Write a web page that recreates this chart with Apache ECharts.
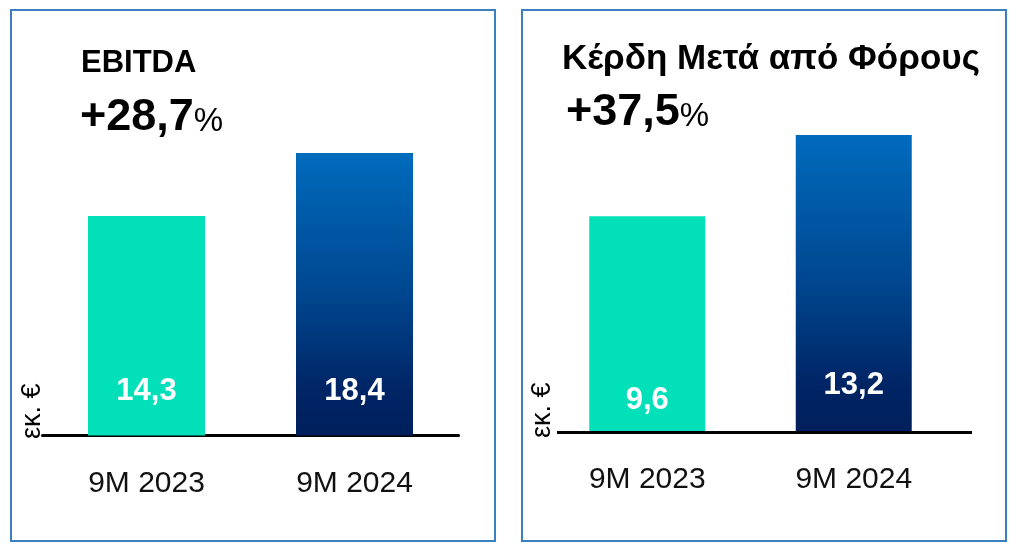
<!DOCTYPE html>
<html>
<head>
<meta charset="utf-8">
<script src="https://cdn.jsdelivr.net/npm/echarts@6/dist/echarts.min.js"></script>
<style>
html,body{margin:0;padding:0;background:#fff;}
#c{width:1018px;height:554px;}
</style>
</head>
<body>
<div id="c"></div>
<script>
var categories = ['9M 2023', '9M 2024'];
var ebitdaValues = [14.3, 18.4];
var profitValues = [9.6, 13.2];
var titles = ['EBITDA', 'Κέρδη Μετά από Φόρους'];
var growth = ['+28,7', '+37,5'];
var unitLabel = 'εκ. €';

var FONT = '"Liberation Sans", Arial, sans-serif';
var teal = '#02e0b9';
function blueGrad() {
  return new echarts.graphic.LinearGradient(0, 0, 0, 1, [
    {offset: 0, color: '#006bbd'},
    {offset: 0.5, color: '#00468f'},
    {offset: 0.85, color: '#002464'},
    {offset: 1, color: '#001f5c'}
  ]);
}
function fmt(v) { return String(v).replace('.', ','); }

function barData(values, dists) {
  return values.map(function (v, i) {
    return {
      value: v,
      itemStyle: {color: i === 0 ? teal : blueGrad()},
      label: {distance: dists[i]}
    };
  });
}

var chart = echarts.init(document.getElementById('c'), null, {renderer: 'canvas'});
var pctRich = {p: {fontFamily: FONT, fontSize: 33, fontWeight: 'normal', color: '#000', verticalAlign: 'bottom', padding: [0,0,2,0]}};
var option = {
  animation: false,
  backgroundColor: '#fff',
  title: [
    {text: titles[0], left: 76, top: 43, textStyle: {fontFamily: FONT, fontSize: 31, fontWeight: 'bold', color: '#000'}},
    {text: growth[0] + '{p|%}', left: 75, top: 90, textStyle: {fontFamily: FONT, fontSize: 45, fontWeight: 'bold', color: '#000', rich: pctRich}},
    {text: titles[1], left: 557, top: 37, textStyle: {fontFamily: FONT, fontSize: 35, fontWeight: 'bold', color: '#000'}},
    {text: growth[1] + '{p|%}', left: 561, top: 85, textStyle: {fontFamily: FONT, fontSize: 45, fontWeight: 'bold', color: '#000', rich: pctRich}}
  ],
  grid: [
    {left: 42.5, right: 559.5, top: 153, bottom: 118.5},
    {left: 544, right: 61, top: 135, bottom: 121.5}
  ],
  xAxis: [
    {type: 'category', gridIndex: 0, data: categories,
      axisLine: {show: true, lineStyle: {color: '#000', width: 3}}, axisTick: {show: false},
      axisLabel: {margin: 33, fontFamily: FONT, fontSize: 30, color: '#111'}},
    {type: 'category', gridIndex: 1, data: categories,
      axisLine: {show: false}, axisTick: {show: false},
      axisLabel: {margin: 32, fontFamily: FONT, fontSize: 30, color: '#111'}}
  ],
  yAxis: [
    {type: 'value', gridIndex: 0, min: 0, max: Math.max.apply(null, ebitdaValues), show: false},
    {type: 'value', gridIndex: 1, min: 0, max: Math.max.apply(null, profitValues), show: false}
  ],
  graphic: [
    {type: 'rect', shape: {x: 11, y: 10, width: 484, height: 531}, style: {fill: 'none', stroke: '#3a7fbf', lineWidth: 2}, silent: true},
    {type: 'rect', shape: {x: 522, y: 10, width: 484, height: 531}, style: {fill: 'none', stroke: '#3a7fbf', lineWidth: 2}, silent: true},
    {type: 'line', shape: {x1: 557, y1: 432.5, x2: 972, y2: 432.5}, style: {stroke: '#000', lineWidth: 3}, z: 10, silent: true},
    {type: 'text', x: 46, y: 439, rotation: Math.PI / 2, style: {text: unitLabel, font: '27px ' + FONT, fill: '#000', textAlign: 'left', textVerticalAlign: 'bottom'}, silent: true},
    {type: 'text', x: 556, y: 438, rotation: Math.PI / 2, style: {text: unitLabel, font: '27px ' + FONT, fill: '#000', textAlign: 'left', textVerticalAlign: 'bottom'}, silent: true}
  ],
  series: [
    {type: 'bar', xAxisIndex: 0, yAxisIndex: 0, barWidth: 117, data: barData(ebitdaValues, [29, 29]),
      label: {show: true, position: 'insideBottom', formatter: function (p) { return fmt(p.value); },
        fontFamily: FONT, fontSize: 31, fontWeight: 'bold', color: '#fff'}},
    {type: 'bar', xAxisIndex: 1, yAxisIndex: 1, barWidth: 116, data: barData(profitValues, [17, 32]),
      label: {show: true, position: 'insideBottom', formatter: function (p) { return fmt(p.value); },
        fontFamily: FONT, fontSize: 31, fontWeight: 'bold', color: '#fff'}}
  ]
};
chart.setOption(option);
</script>
</body>
</html>
